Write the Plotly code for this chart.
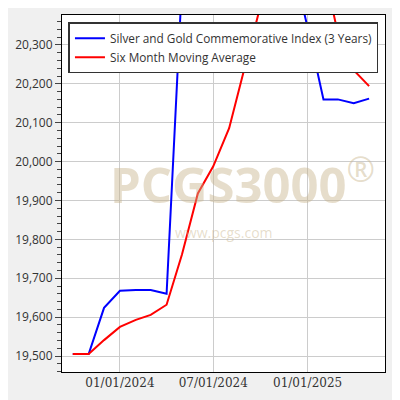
import plotly.graph_objs as go

MONTHS = ['2023-10-01', '2023-11-01', '2023-12-01', '2024-01-01', '2024-02-01',
          '2024-03-01', '2024-04-01', '2024-05-01', '2024-06-01', '2024-07-01',
          '2024-08-01', '2024-09-01', '2024-10-01', '2024-11-01', '2024-12-01',
          '2025-01-01', '2025-02-01', '2025-03-01', '2025-04-01', '2025-05-01']
INDEX = [19505, 19505, 19624, 19668, 19670, 19670, 19660, 20460, 20520, 20560,
         20600, 20620, 20600, 20580, 20520, 20345, 20160, 20160, 20150, 20162]
MOVING_AVG = [19505, 19505, 19541, 19575, 19593, 19606, 19632, 19761, 19918, 19988,
              20086, 20250, 20400, 20480, 20540, 20560, 20500, 20330, 20235, 20194]
Y_TICKS = list(range(19500, 20301, 100))

fig = go.Figure([
    go.Scatter(x=MONTHS, y=INDEX, mode='lines', name='Silver and Gold Commemorative Index (3 Years)',
               line=dict(color='#0000ff', width=2)),
    go.Scatter(x=MONTHS, y=MOVING_AVG, mode='lines', name='Six Month Moving Average',
               line=dict(color='#ff0000', width=2)),
])

fig.add_annotation(text='<b>PCGS3000</b><sup>®</sup>', xref='paper', yref='paper', x=0.56, y=0.535,
                   showarrow=False, font=dict(family='Open Sans', size=49, color='rgba(200,180,140,0.45)'))
fig.add_annotation(text='www.pcgs.com', xref='paper', yref='paper', x=0.5, y=0.39,
                   showarrow=False, font=dict(family='Open Sans', size=14, color='rgba(200,180,140,0.45)'))

fig.update_layout(
    width=400, height=400,
    margin=dict(l=54, r=23, t=7, b=36, autoexpand=False),
    paper_bgcolor='#f0f0f0', plot_bgcolor='white',
    font=dict(family='Open Sans', size=12, color='#333'),
    showlegend=True,
    legend=dict(x=0.02, y=0.98, xanchor='left', yanchor='top', bgcolor='white',
                bordercolor='#333', borderwidth=1.5, tracegroupgap=8,
                font=dict(size=11.8, color='#333')),
    xaxis=dict(range=['2023-09-10', '2025-06-01'], tickvals=['2024-01-01', '2024-07-01', '2025-01-01'],
               ticktext=['01/01/2024', '07/01/2024', '01/01/2025'], showgrid=True, gridcolor='#ccc',
               showline=True, linecolor='black', mirror=True, ticks='', automargin=False,
               tickfont=dict(family='DejaVu Serif', size=12)),
    yaxis=dict(range=[19459, 20377], tickvals=Y_TICKS, ticktext=[f'{v:,}' for v in Y_TICKS],
               showgrid=True, gridcolor='#ccc', showline=True, linecolor='black', mirror=True,
               automargin=False, ticks='outside', ticklen=6,
               minor=dict(dtick=20, ticks='outside', ticklen=4, showgrid=False)),
)
fig.write_html('out.html')
